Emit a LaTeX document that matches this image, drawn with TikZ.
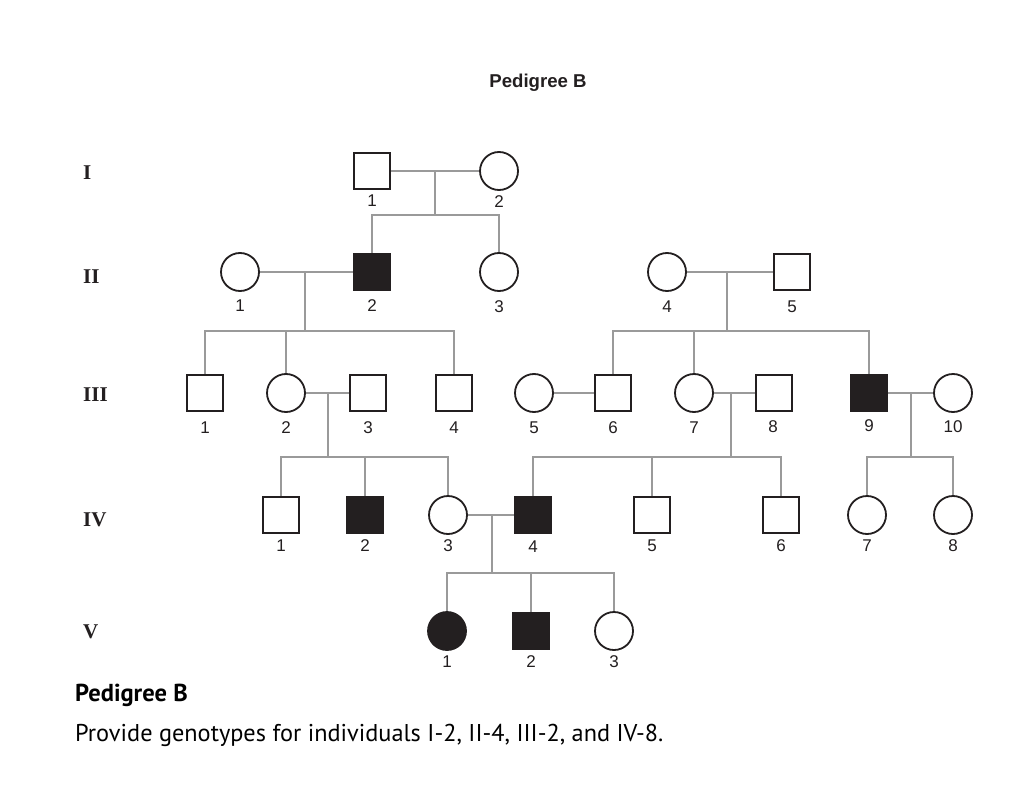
\documentclass[tikz,border=0pt]{standalone}
\usepackage{fontspec}
\newfontfamily\helv{Liberation Sans}
\newfontfamily\ptsans{PT Sans}
\newfontfamily\tms{Liberation Serif}
\definecolor{symc}{HTML}{231F20}
\definecolor{conncol}{HTML}{9A9A9A}
\begin{document}
\begin{tikzpicture}[x=1pt,y=-1pt,
  sq/.style={rectangle,draw=symc,line width=1.8pt,minimum size=36pt,inner sep=0pt,fill=white},
  ci/.style={circle,draw=symc,line width=1.8pt,minimum size=38pt,inner sep=0pt,fill=white},
  aff/.style={fill=symc},
  lab/.style={font=\helv\fontsize{17}{19}\selectfont,text=symc,inner sep=0pt},
  gen/.style={font=\tms\bfseries\fontsize{21}{23}\selectfont,text=symc,inner sep=0pt,anchor=west},
  conn/.style={draw=conncol,line width=1.6pt}]
\useasboundingbox[fill=white] (0,0) rectangle (1024,810);

% title
\node[font=\helv\bfseries\fontsize{18.6}{22}\selectfont,text=symc,inner sep=0pt] (title) at (538,83) {Pedigree B};

% generation labels
\node[gen] (gI) at (83,173) {I};
\node[gen] (gII) at (83,277) {II};
\node[gen] (gIII) at (83,395) {III};
\node[gen] (gIV) at (83,520) {IV};
\node[gen] (gV) at (83,632) {V};

% generation I
\node[sq] (I1) at (372,171) {};
\node[ci] (I2) at (499,171) {};
% generation II
\node[ci] (II1) at (240,272) {};
\node[sq,aff] (II2) at (372,272) {};
\node[ci] (II3) at (499,272) {};
\node[ci] (II4) at (667,272) {};
\node[sq] (II5) at (792,272) {};
% generation III
\node[sq] (III1) at (205,393) {};
\node[ci] (III2) at (286,393) {};
\node[sq] (III3) at (368,393) {};
\node[sq] (III4) at (454,393) {};
\node[ci] (III5) at (534,393) {};
\node[sq] (III6) at (613,393) {};
\node[ci] (III7) at (694,393) {};
\node[sq] (III8) at (774,393) {};
\node[sq,aff] (III9) at (869,393) {};
\node[ci] (III10) at (953,393) {};
% generation IV
\node[sq] (IV1) at (281,515) {};
\node[sq,aff] (IV2) at (365,515) {};
\node[ci] (IV3) at (448,515) {};
\node[sq,aff] (IV4) at (533,515) {};
\node[sq] (IV5) at (652,515) {};
\node[sq] (IV6) at (781,515) {};
\node[ci] (IV7) at (867,515) {};
\node[ci] (IV8) at (953,515) {};
% generation V
\node[ci,aff] (V1) at (447,631) {};
\node[sq,aff] (V2) at (531,631) {};
\node[ci] (V3) at (614,631) {};

% number labels
\node[lab] (I1l) at (372,201) {1};
\node[lab] (I2l) at (499,202) {2};
\node[lab] (II1l) at (240,306) {1};
\node[lab] (II2l) at (372,306) {2};
\node[lab] (II3l) at (499,307) {3};
\node[lab] (II4l) at (667,307) {4};
\node[lab] (II5l) at (792,307) {5};
\node[lab] (III1l) at (205,428) {1};
\node[lab] (III2l) at (286,428) {2};
\node[lab] (III3l) at (368,428) {3};
\node[lab] (III4l) at (454,428) {4};
\node[lab] (III5l) at (534,428) {5};
\node[lab] (III6l) at (613,428) {6};
\node[lab] (III7l) at (694,428) {7};
\node[lab] (III8l) at (773,427) {8};
\node[lab] (III9l) at (869,426) {9};
\node[lab] (III10l) at (953,427) {10};
\node[lab] (IV1l) at (281,546) {1};
\node[lab] (IV2l) at (365,546) {2};
\node[lab] (IV3l) at (448,546) {3};
\node[lab] (IV4l) at (533,547) {4};
\node[lab] (IV5l) at (652,546) {5};
\node[lab] (IV6l) at (781,546) {6};
\node[lab] (IV7l) at (867,546) {7};
\node[lab] (IV8l) at (953,546) {8};
\node[lab] (V1l) at (447,662) {1};
\node[lab] (V2l) at (531,662) {2};
\node[lab] (V3l) at (614,662) {3};

% mating / descent coordinates
\coordinate (mI) at (435,171);   \coordinate (sI) at (435,215);
\coordinate (mA) at (305,272);   \coordinate (sA) at (305,331);
\coordinate (mB) at (727,272);   \coordinate (sB) at (727,331);
\coordinate (mC) at (328,393);   \coordinate (sC) at (328,457);
\coordinate (mD) at (731,393);   \coordinate (sD) at (731,457);
\coordinate (mE) at (911,393);   \coordinate (sE) at (911,457);
\coordinate (mF) at (492,515);   \coordinate (sF) at (492,573);

% connectors
\draw[conn] (I1) -- (I2);
\draw[conn] (mI) -- (sI);
\draw[conn] (II2.north) |- (sI) -| (II3.north);

\draw[conn] (II1) -- (II2);
\draw[conn] (mA) -- (sA);
\draw[conn] (III1.north) |- (sA) -| (III4.north);
\draw[conn] (III2.north) -- (III2.north |- sA);

\draw[conn] (II4) -- (II5);
\draw[conn] (mB) -- (sB);
\draw[conn] (III6.north) |- (sB) -| (III9.north);
\draw[conn] (III7.north) -- (III7.north |- sB);

\draw[conn] (III2) -- (III3);
\draw[conn] (mC) -- (sC);
\draw[conn] (IV1.north) |- (sC) -| (IV3.north);
\draw[conn] (IV2.north) -- (IV2.north |- sC);

\draw[conn] (III5) -- (III6);

\draw[conn] (III7) -- (III8);
\draw[conn] (mD) -- (sD);
\draw[conn] (IV4.north) |- (sD) -| (IV6.north);
\draw[conn] (IV5.north) -- (IV5.north |- sD);

\draw[conn] (III9) -- (III10);
\draw[conn] (mE) -- (sE);
\draw[conn] (IV7.north) |- (sE) -| (IV8.north);

\draw[conn] (IV3) -- (IV4);
\draw[conn] (mF) -- (sF);
\draw[conn] (V1.north) |- (sF) -| (V3.north);
\draw[conn] (V2.north) -- (V2.north |- sF);

% caption
\node[font=\ptsans\bfseries\fontsize{24.5}{28}\selectfont,anchor=base west,inner sep=0pt] (cap1) at (75,701) {Pedigree B};
\node[font=\ptsans\fontsize{24.3}{28}\selectfont,anchor=base west,inner sep=0pt] (cap2) at (75,741) {Provide genotypes for individuals I-2, II-4, III-2, and IV-8.};
\end{tikzpicture}
\end{document}
